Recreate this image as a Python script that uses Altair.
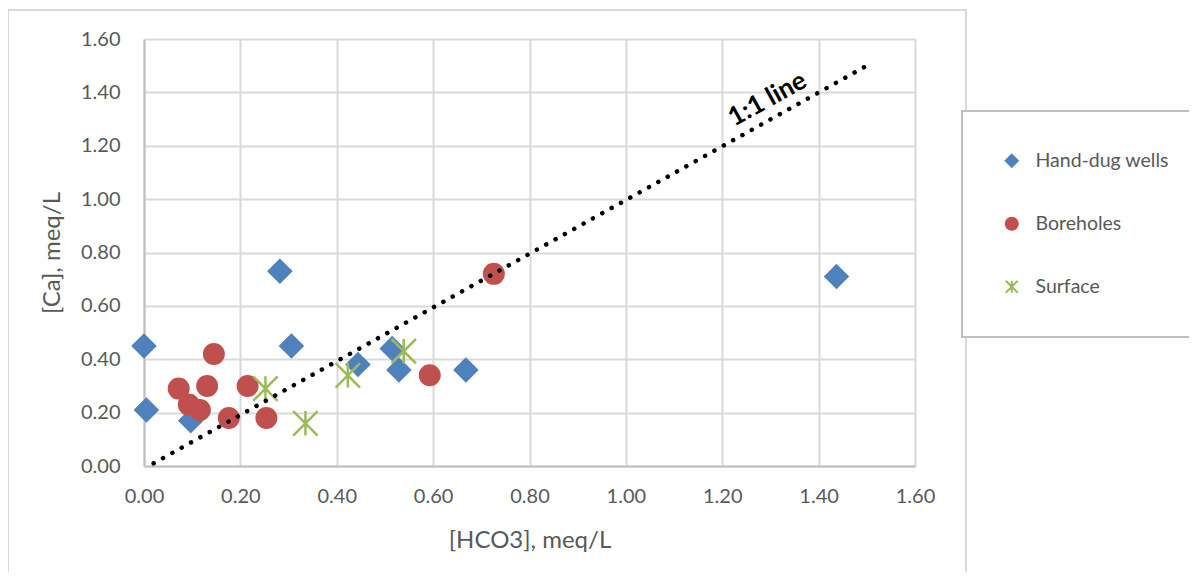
import altair as alt
import pandas as pd

# ---- data ----
hand_x = [0.00, 0.005, 0.097, 0.282, 0.306, 0.444, 0.515, 0.529, 0.668, 1.437]
hand_y = [0.45, 0.21, 0.17, 0.73, 0.45, 0.38, 0.44, 0.36, 0.36, 0.71]

bore_x = [0.072, 0.093, 0.116, 0.145, 0.131, 0.176, 0.215, 0.254, 0.593, 0.726]
bore_y = [0.29, 0.23, 0.21, 0.42, 0.30, 0.18, 0.30, 0.18, 0.34, 0.72]

surf_x = [0.252, 0.335, 0.423, 0.539]
surf_y = [0.29, 0.16, 0.34, 0.43]

series_names = ["Hand-dug wells", "Boreholes", "Surface"]
series_colors = ["#4F81BD", "#C0504D", "#9BBB59"]
asterisk = "M-1,-1L1,1M-1,1L1,-1M0,-1L0,1"
series_shapes = ["diamond", "circle", asterisk]
series_sizes = [484, 380, 600]

line_x = [0.02, 1.5]
line_y = [0.01, 1.5]
line_label = "1:1 line"
label_x = [1.294]
label_y = [1.374]

tick_vals = [0.0, 0.2, 0.4, 0.6, 0.8, 1.0, 1.2, 1.4, 1.6]

FONT = "Lato"
GREY = "#595959"

frames = []
for name, xs, ys in zip(series_names, [hand_x, bore_x, surf_x], [hand_y, bore_y, surf_y]):
    frames.append(pd.DataFrame({"HCO3": xs, "Ca": ys, "Series": name}))

line_df = pd.DataFrame({"HCO3": line_x, "Ca": line_y})
lab_df = pd.DataFrame({"HCO3": label_x, "Ca": label_y, "t": [line_label]})

xscale = alt.Scale(domain=[0, 1.6], nice=False, zero=False)
yscale = alt.Scale(domain=[0, 1.6], nice=False, zero=False)

xaxis = alt.Axis(values=tick_vals, format=".2f", title="[HCO3], meq/L",
                 labelPadding=20, titlePadding=22, labelFlush=False)
yaxis = alt.Axis(values=tick_vals, format=".2f", title="[Ca], meq/L",
                 labelPadding=24, titlePadding=16, labelFlush=False)

legend = alt.Legend(
    title=None, orient="none", legendX=818, legendY=72, padding=40,
    strokeColor="#bfbfbf", fillColor="white",
    labelFont=FONT, labelFontSize=19.5, labelColor=GREY, labelOffset=14,
    symbolSize=144, rowPadding=42, symbolStrokeWidth=2,
    labelExpr="datum.label + '\u00a0\u00a0\u00a0\u00a0\u00a0\u00a0'",
)

frame = alt.Chart(pd.DataFrame({"a": [0]})).mark_rect(
    fill="white", fillOpacity=0, stroke="#d9d9d9", strokeWidth=2
).encode(x=alt.value(-136), x2=alt.value(822), y=alt.value(-29), y2=alt.value(620))

sc_color = alt.Scale(domain=series_names, range=series_colors)
sc_shape = alt.Scale(domain=series_names, range=series_shapes)

# first series carries the legend (its scales list all three series)
hand = alt.Chart(frames[0]).mark_point(
    filled=True, strokeWidth=2.5, opacity=1, size=series_sizes[0]
).encode(
    x=alt.X("HCO3:Q", scale=xscale, axis=xaxis),
    y=alt.Y("Ca:Q", scale=yscale, axis=yaxis),
    color=alt.Color("Series:N", scale=sc_color, legend=legend),
    stroke=alt.Stroke("Series:N", scale=sc_color, legend=legend),
    shape=alt.Shape("Series:N", scale=sc_shape, legend=legend),
)

bore = alt.Chart(frames[1]).mark_point(
    filled=True, opacity=1, size=series_sizes[1], strokeWidth=2.5,
    shape=series_shapes[1], color=series_colors[1], stroke=series_colors[1]
).encode(x=alt.X("HCO3:Q", scale=xscale), y=alt.Y("Ca:Q", scale=yscale))

surf = alt.Chart(frames[2]).mark_point(
    filled=False, opacity=1, size=series_sizes[2], strokeWidth=2.5,
    shape=series_shapes[2], color=series_colors[2], stroke=series_colors[2]
).encode(x=alt.X("HCO3:Q", scale=xscale), y=alt.Y("Ca:Q", scale=yscale))

line = alt.Chart(line_df).mark_line(
    color="black", strokeWidth=4.5, strokeDash=[0.1, 10.6], strokeCap="round"
).encode(x=alt.X("HCO3:Q", scale=xscale), y=alt.Y("Ca:Q", scale=yscale))

label = alt.Chart(lab_df).mark_text(
    font=FONT, fontSize=26, fontWeight="bold", color="black", angle=331,
    align="center", baseline="middle"
).encode(x=alt.X("HCO3:Q", scale=xscale), y=alt.Y("Ca:Q", scale=yscale), text="t:N")

chart = alt.layer(frame, hand, bore, surf, line, label).properties(
    width=771, height=427,
    autosize=alt.AutoSizeParams(type="none"),
    padding={"left": 136, "top": 31, "right": 274, "bottom": 106},
).resolve_scale(color="independent", shape="independent", stroke="independent"
).configure_view(stroke=None).configure_axis(
    labelFont=FONT, labelFontSize=20, labelColor=GREY,
    titleFont=FONT, titleFontSize=24, titleColor=GREY, titleFontWeight="normal",
    gridColor="#d9d9d9", gridWidth=2, domainColor="#bfbfbf", domainWidth=2,
    ticks=False, tickSize=0,
).configure_legend(strokeWidth=2)

chart.save("out.html", embed_options={"renderer": "svg", "actions": False})
